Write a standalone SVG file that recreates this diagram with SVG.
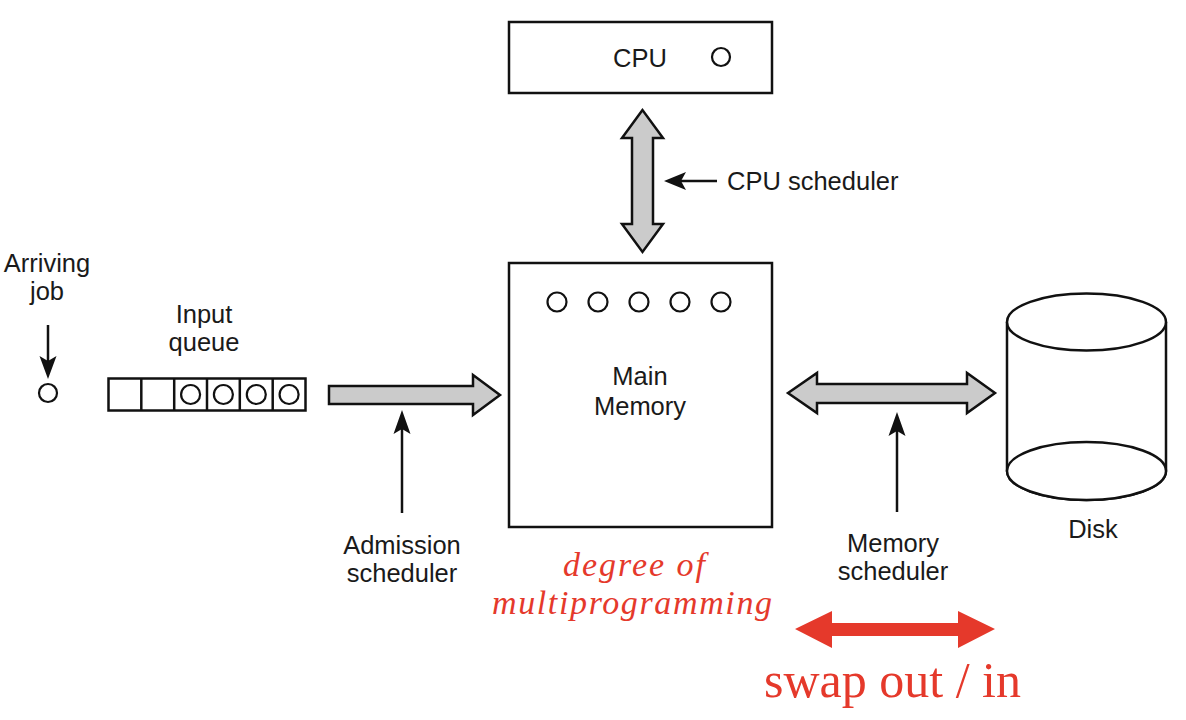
<svg xmlns="http://www.w3.org/2000/svg" width="1186" height="720" viewBox="0 0 1186 720">
<defs>
<style>
.box{fill:#fff;stroke:#111;stroke-width:2.5}
.cir{fill:none;stroke:#111;stroke-width:2.2}
.lbl{font-family:"Liberation Sans",Arial,sans-serif;font-size:25.5px;fill:#1a1a1a;text-anchor:middle}
.big{fill:#cbcbcb;stroke:#111;stroke-width:2.5;stroke-linejoin:miter}
.thin{stroke:#111;stroke-width:2.5;fill:none}
.head{fill:#111;stroke:none}
.red{fill:#e5392b}
.rtxt{font-family:"Liberation Serif","Times New Roman",serif;fill:#e5392b}
</style>
</defs>
<rect width="1186" height="720" fill="#fff"/>

<g id="cpu">
<rect class="box" x="509" y="22" width="263" height="71"/>
<text class="lbl" x="640" y="67">CPU</text>
<circle class="cir" cx="721" cy="57" r="9"/>
</g>

<g id="main-memory">
<rect class="box" x="509" y="263" width="263" height="264"/>
<circle class="cir" cx="557" cy="302" r="9.5"/>
<circle class="cir" cx="598" cy="302" r="9.5"/>
<circle class="cir" cx="639" cy="302" r="9.5"/>
<circle class="cir" cx="680" cy="302" r="9.5"/>
<circle class="cir" cx="721" cy="302" r="9.5"/>
<text class="lbl" x="640" y="385">Main</text>
<text class="lbl" x="640" y="415">Memory</text>
</g>

<g id="input-queue">
<rect class="box" x="108.5" y="378.5" width="197" height="32"/>
<line class="thin" x1="141.3" y1="378.5" x2="141.3" y2="410.5" stroke-width="2"/>
<line class="thin" x1="174.2" y1="378.5" x2="174.2" y2="410.5" stroke-width="2"/>
<line class="thin" x1="207" y1="378.5" x2="207" y2="410.5" stroke-width="2"/>
<line class="thin" x1="239.8" y1="378.5" x2="239.8" y2="410.5" stroke-width="2"/>
<line class="thin" x1="272.7" y1="378.5" x2="272.7" y2="410.5" stroke-width="2"/>
<circle class="cir" cx="190.6" cy="394.5" r="9.5"/>
<circle class="cir" cx="223.4" cy="394.5" r="9.5"/>
<circle class="cir" cx="256.3" cy="394.5" r="9.5"/>
<circle class="cir" cx="289.1" cy="394.5" r="9.5"/>
<text class="lbl" x="204" y="323">Input</text>
<text class="lbl" x="204" y="351">queue</text>
</g>

<g id="arriving-job">
<circle class="cir" cx="48" cy="393" r="9"/>
<text class="lbl" x="47" y="272">Arriving</text>
<text class="lbl" x="47" y="300">job</text>
</g>

<g id="disk">
<path class="box" d="M1007,322 L1007,471 A79.5,29 0 0 0 1166,471 L1166,322"/>
<ellipse class="box" cx="1086.5" cy="322" rx="79.5" ry="28.5"/>
<ellipse class="box" cx="1086.5" cy="471" rx="79.5" ry="29"/>
<text class="lbl" x="1093" y="538">Disk</text>
</g>

<g id="labels">
<text class="lbl" x="727" y="190" style="text-anchor:start">CPU scheduler</text>
<text class="lbl" x="402" y="554">Admission</text>
<text class="lbl" x="402" y="582">scheduler</text>
<text class="lbl" x="893" y="552">Memory</text>
<text class="lbl" x="893" y="580">scheduler</text>
<text class="rtxt" x="563" y="576" font-size="34" font-style="italic" textLength="142" lengthAdjust="spacing">degree of</text>
<text class="rtxt" x="492" y="614" font-size="34" font-style="italic" textLength="280" lengthAdjust="spacing">multiprogramming</text>
<text class="rtxt" x="764" y="697" font-size="50">swap out / in</text>
</g>

<g id="connectors">
<polygon class="big" points="642.5,110 622,138 632,138 632,224 622,224 642.5,252 663,224 653,224 653,138 663,138"/>
<polygon class="big" points="329,386 473,386 473,375 500,395 473,415 473,404 329,404"/>
<polygon class="big" points="788,393 817,373 817,384 967,384 967,373 995,393 967,413 967,403 817,403 817,413"/>
<line class="thin" x1="717" y1="181" x2="680" y2="181"/>
<path class="head" d="M664,181 L686,172 L681,181 L686,190 Z"/>
<line class="thin" x1="48" y1="325" x2="48" y2="362"/>
<path class="head" d="M48,379 L39.5,356 L48,361 L56.5,356 Z"/>
<line class="thin" x1="402" y1="513" x2="402" y2="428"/>
<path class="head" d="M402,410 L393.5,434 L402,429 L410.5,434 Z"/>
<line class="thin" x1="897" y1="512" x2="897" y2="430"/>
<path class="head" d="M897,412 L888.5,436 L897,431 L905.5,436 Z"/>
<polygon class="red" points="795,629 832,611 832,623 958,623 958,611 995,629 958,648 958,636 832,636 832,648"/>
</g>
</svg>
